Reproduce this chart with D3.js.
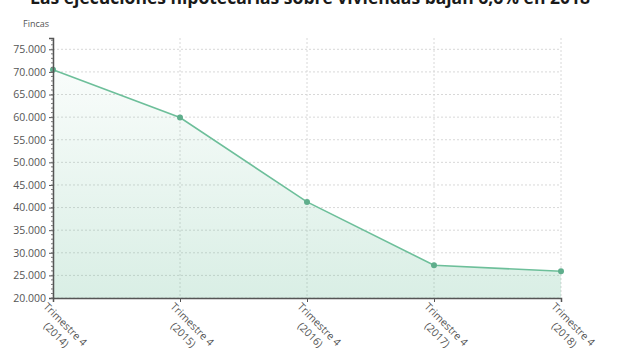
<!DOCTYPE html>
<html>
<head>
<meta charset="utf-8">
<script src="https://cdn.jsdelivr.net/npm/d3@7"></script>
<style>
  body { margin: 0; background: #fff; }
  svg { display: block; font-family: "Open Sans", sans-serif; }
</style>
</head>
<body>
<svg id="chart" width="620" height="350"></svg>
<script>
// Data
const categories = ["Trimestre 4 (2014)", "Trimestre 4 (2015)", "Trimestre 4 (2016)", "Trimestre 4 (2017)", "Trimestre 4 (2018)"];
const values = [70500, 59900, 41250, 27250, 25900];
const yTicks = [20000, 25000, 30000, 35000, 40000, 45000, 50000, 55000, 60000, 65000, 70000, 75000];

const title = "Las ejecuciones hipotecarias sobre viviendas bajan 6,6% en 2018";
const unit = "Fincas";

const width = 620;
const height = 350;
const margin = ({top: 38, right: 59, bottom: 52, left: 53});

const svg = d3.select("#chart");

const x = d3.scalePoint()
  .domain(categories)
  .range([margin.left, width - margin.right]);

const y = d3.scaleLinear()
  .domain([20000, 77500])
  .range([height - margin.bottom, margin.top]);

const fmt = v => d3.format(",")(v).replace(/,/g, ".");

// gradient for the area
const defs = svg.append("defs");
const grad = defs.append("linearGradient")
  .attr("id", "areaGrad")
  .attr("x1", 0).attr("y1", 0).attr("x2", 0).attr("y2", 1);
grad.append("stop").attr("offset", "0%").attr("stop-color", "#6dbf9a").attr("stop-opacity", 0.04);
grad.append("stop").attr("offset", "100%").attr("stop-color", "#6dbf9a").attr("stop-opacity", 0.26);

// title (cut at top like the original)
svg.append("text")
  .attr("x", width / 2)
  .attr("y", 4)
  .attr("text-anchor", "middle")
  .attr("font-size", 17.5)
  .attr("font-weight", "bold")
  .attr("fill", "#1a1a1a")
  .text(title);

svg.append("text")
  .attr("x", 23)
  .attr("y", 27)
  .attr("font-size", 9)
  .attr("fill", "#555")
  .text(unit);

// horizontal grid
svg.append("g")
  .selectAll("line")
  .data(yTicks)
  .join("line")
  .attr("x1", margin.left)
  .attr("x2", width - margin.right)
  .attr("y1", d => y(d))
  .attr("y2", d => y(d))
  .attr("stroke", "#d8d8d8")
  .attr("stroke-dasharray", "2,2");

// vertical grid
svg.append("g")
  .selectAll("line")
  .data(categories)
  .join("line")
  .attr("x1", d => x(d))
  .attr("x2", d => x(d))
  .attr("y1", margin.top)
  .attr("y2", height - margin.bottom)
  .attr("stroke", "#d8d8d8")
  .attr("stroke-dasharray", "2,2");

const pts = categories.map((c, i) => ({c, v: values[i]}));

// area
const area = d3.area()
  .x(d => x(d.c))
  .y0(y(20000))
  .y1(d => y(d.v));

svg.append("path")
  .datum(pts)
  .attr("d", area)
  .attr("fill", "url(#areaGrad)");

// line
const line = d3.line()
  .x(d => x(d.c))
  .y(d => y(d.v));

svg.append("path")
  .datum(pts)
  .attr("d", line)
  .attr("fill", "none")
  .attr("stroke", "#6dbf9a")
  .attr("stroke-width", 1.6);

svg.append("g")
  .selectAll("circle")
  .data(pts)
  .join("circle")
  .attr("cx", d => x(d.c))
  .attr("cy", d => y(d.v))
  .attr("r", 3)
  .attr("fill", "#5fae8c");

// y axis
const yAxis = svg.append("g")
  .attr("transform", `translate(${margin.left},0)`)
  .call(d3.axisLeft(y).tickValues(yTicks).tickFormat(fmt).tickSize(4).tickPadding(3));
yAxis.select(".domain").attr("stroke", "#555").attr("stroke-width", 1.5);
yAxis.selectAll(".tick line").attr("stroke", "#555");
yAxis.selectAll(".tick text")
  .attr("font-family", "Open Sans, sans-serif")
  .attr("font-size", 10.5)
  .attr("fill", "#555");

// minor ticks on the y axis
svg.append("g")
  .selectAll("line")
  .data(d3.range(20000, 77500, 1000))
  .join("line")
  .attr("x1", margin.left - 2)
  .attr("x2", margin.left)
  .attr("y1", d => y(d))
  .attr("y2", d => y(d))
  .attr("stroke", "#777");

// x axis
const xAxis = svg.append("g")
  .attr("transform", `translate(0,${height - margin.bottom})`)
  .call(d3.axisBottom(x).tickSize(4).tickFormat(""));
xAxis.select(".domain").attr("stroke", "#555").attr("stroke-width", 1.5);
xAxis.selectAll(".tick line").attr("stroke", "#555");

// rotated category labels, two lines each
const labels = svg.append("g")
  .selectAll("text")
  .data(categories)
  .join("text")
  .attr("transform", d => `translate(${x(d) - 5},${height - margin.bottom + 4}) rotate(45)`)
  .attr("font-size", 10.5)
  .attr("fill", "#555");

labels.append("tspan")
  .attr("x", 0)
  .attr("dy", "0.7em")
  .text(d => d.split(" (")[0]);
labels.append("tspan")
  .attr("x", 14)
  .attr("dy", "1.3em")
  .text(d => "(" + d.split(" (")[1]);
</script>
</body>
</html>
